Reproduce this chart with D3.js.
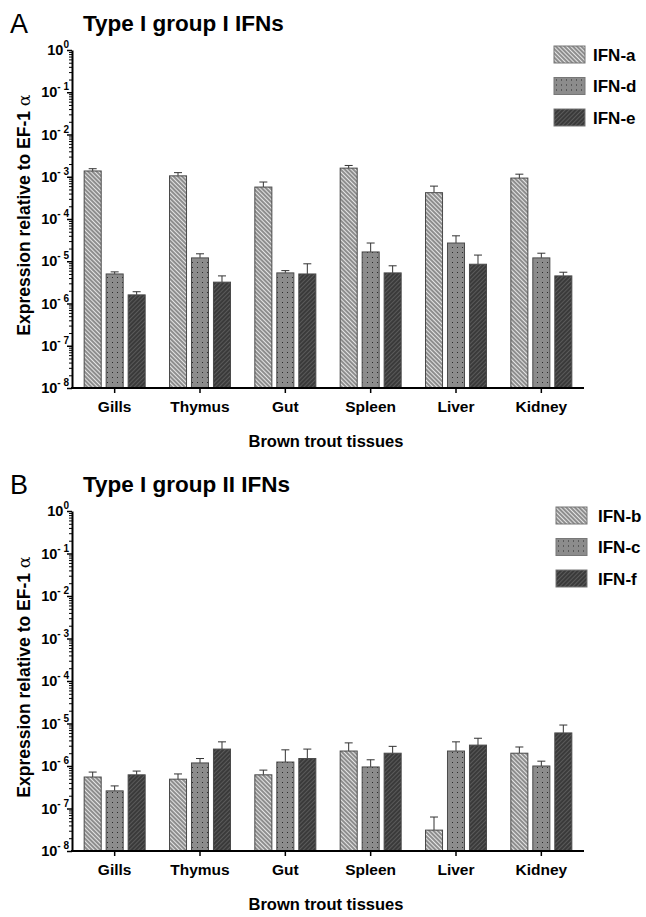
<!DOCTYPE html>
<html>
<head>
<meta charset="utf-8">
<script src="https://cdn.jsdelivr.net/npm/d3@7"></script>
<style>
  body { margin: 0; background: white; }
  svg { font-family: "Liberation Sans", Arial, sans-serif; }
</style>
</head>
<body>
<svg width="646" height="917"></svg>
<script>
// data
const tissues = ["Gills", "Thymus", "Gut", "Spleen", "Liver", "Kidney"];

const seriesA = ["IFN-a", "IFN-d", "IFN-e"];
const meanA = [
  [1.37e-3, 1.05e-3, 5.7e-4, 1.6e-3, 4.2e-4, 9.3e-4],
  [5.0e-6, 1.2e-5, 5.3e-6, 1.66e-5, 2.7e-5, 1.2e-5],
  [1.6e-6, 3.2e-6, 5.0e-6, 5.3e-6, 8.5e-6, 4.5e-6]
];
const errA = [
  [1.55e-3, 1.25e-3, 7.5e-4, 1.85e-3, 6.0e-4, 1.15e-3],
  [5.6e-6, 1.5e-5, 6.0e-6, 2.7e-5, 4.0e-5, 1.55e-5],
  [1.9e-6, 4.5e-6, 8.7e-6, 7.8e-6, 1.4e-5, 5.5e-6]
];

const seriesB = ["IFN-b", "IFN-c", "IFN-f"];
const meanB = [
  [5.5e-7, 4.9e-7, 6.2e-7, 2.25e-6, 3.1e-8, 2.0e-6],
  [2.6e-7, 1.18e-6, 1.24e-6, 9.5e-7, 2.25e-6, 1.0e-6],
  [6.2e-7, 2.5e-6, 1.5e-6, 2.0e-6, 3.1e-6, 6.0e-6]
];
const errB = [
  [7.2e-7, 6.5e-7, 8.0e-7, 3.5e-6, 6.3e-8, 2.8e-6],
  [3.4e-7, 1.5e-6, 2.4e-6, 1.4e-6, 3.7e-6, 1.3e-6],
  [7.6e-7, 3.7e-6, 2.5e-6, 2.9e-6, 4.5e-6, 9.2e-6]
];

const decades = [0, -1, -2, -3, -4, -5, -6, -7, -8];

const svg = d3.select("svg");
const fills = ["url(#hatchBack)", "url(#dots)", "url(#hatchFwd)"];

// 패턴 정의
const defs = svg.append("defs");

const p1 = defs.append("pattern")
  .attr("id", "hatchBack").attr("patternUnits", "userSpaceOnUse")
  .attr("width", 3).attr("height", 3)
  .attr("patternTransform", "rotate(-45)");
p1.append("rect").attr("width", 3).attr("height", 3).attr("fill", "#e4e4e4");
p1.append("line").attr("x1", 1).attr("y1", 0).attr("x2", 1).attr("y2", 3)
  .attr("stroke", "#222").attr("stroke-width", 0.9);

const p2 = defs.append("pattern")
  .attr("id", "dots").attr("patternUnits", "userSpaceOnUse")
  .attr("width", 5).attr("height", 5);
p2.append("rect").attr("width", 5).attr("height", 5).attr("fill", "#8c8c8c");
p2.append("rect").attr("x", 2).attr("y", 2).attr("width", 1).attr("height", 1).attr("fill", "#2a2a2a");

const p3 = defs.append("pattern")
  .attr("id", "hatchFwd").attr("patternUnits", "userSpaceOnUse")
  .attr("width", 3).attr("height", 3)
  .attr("patternTransform", "rotate(45)");
p3.append("rect").attr("width", 3).attr("height", 3).attr("fill", "#5a5a5a");
p3.append("line").attr("x1", 1).attr("y1", 0).attr("x2", 1).attr("y2", 3)
  .attr("stroke", "#1a1a1a").attr("stroke-width", 1);

function drawPanel(opt) {
  const g = svg.append("g");
  const left = 72, right = 584;

  const y = d3.scaleLog().domain([1e-8, 1]).range([opt.bottom, opt.top]);
  const x = d3.scaleBand().domain(tissues).range([left, right]);
  const groupW = 62;
  const xs = d3.scaleBand().domain(opt.series).range([0, groupW]).paddingInner(0.18);

  // 막대
  opt.series.forEach((s, si) => {
    const bx = t => x(t) + (x.bandwidth() - groupW) / 2 + xs(s);
    // error bars
    g.selectAll(null).data(tissues).enter().append("line")
      .attr("x1", t => bx(t) + xs.bandwidth() / 2)
      .attr("x2", t => bx(t) + xs.bandwidth() / 2)
      .attr("y1", (t, i) => y(opt.mean[si][i]))
      .attr("y2", (t, i) => y(opt.err[si][i]))
      .attr("stroke", "#333").attr("stroke-width", 1);
    g.selectAll(null).data(tissues).enter().append("line")
      .attr("x1", t => bx(t) + xs.bandwidth() / 2 - 4)
      .attr("x2", t => bx(t) + xs.bandwidth() / 2 + 4)
      .attr("y1", (t, i) => y(opt.err[si][i]))
      .attr("y2", (t, i) => y(opt.err[si][i]))
      .attr("stroke", "#333").attr("stroke-width", 1);
    g.selectAll(null).data(tissues).enter().append("rect")
      .attr("x", t => bx(t) + 0.5)
      .attr("y", (t, i) => y(opt.mean[si][i]))
      .attr("width", xs.bandwidth() - 1)
      .attr("height", (t, i) => y(1e-8) - y(opt.mean[si][i]))
      .attr("fill", fills[si])
      .attr("stroke", "#4a4a4a").attr("stroke-width", 1);
  });

  // y 축: minor ticks
  const minor = [];
  decades.slice(0, -1).forEach(d => {
    for (let k = 2; k <= 9; k++) minor.push(k * Math.pow(10, d - 1));
  });
  g.append("g").attr("transform", `translate(${left},0)`)
    .call(d3.axisLeft(y).tickValues(minor).tickSize(3).tickFormat(""))
    .call(a => a.select(".domain").remove())
    .selectAll("line").attr("stroke-width", 1);
  const ya = g.append("g").attr("transform", `translate(${left},0)`)
    .call(d3.axisLeft(y).tickValues(decades.map(d => Math.pow(10, d))).tickSize(5).tickSizeOuter(0).tickFormat(""));
  ya.select(".domain").attr("stroke-width", 2);
  ya.selectAll("line").attr("stroke-width", 1.5);

  // 눈금 레이블 10^n
  const lab = g.selectAll(null).data(decades).enter().append("text")
    .attr("x", left - 3)
    .attr("y", d => y(Math.pow(10, d)) + 5)
    .attr("text-anchor", "end")
    .attr("font-weight", "bold")
    .attr("font-size", 14.5);
  lab.append("tspan").text("10");
  lab.append("tspan").attr("dy", -7).attr("font-size", 10)
    .text(d => d === 0 ? "0" : "- " + (-d));

  // x 축
  const xa = g.append("g").attr("transform", `translate(0,${opt.bottom})`)
    .call(d3.axisBottom(x).tickSize(5).tickSizeOuter(0));
  xa.select(".domain").attr("stroke-width", 2).attr("d", `M${left - 1},0H${right}`);
  xa.selectAll("line").attr("stroke-width", 1.5);
  xa.selectAll("text").attr("font-size", 15.5).attr("font-weight", "bold")
    .attr("font-family", "'Liberation Sans', Arial, sans-serif").attr("dy", "1.05em").attr("fill", "#000");

  // 축 제목
  g.append("text")
    .attr("x", 326).attr("y", opt.bottom + 59)
    .attr("text-anchor", "middle").attr("font-size", 16.5).attr("font-weight", "bold")
    .text("Brown trout tissues");

  const yt = g.append("text")
    .attr("transform", `translate(30,${(opt.top + opt.bottom) / 2 - 4}) rotate(-90)`)
    .attr("text-anchor", "middle").attr("font-size", 17.5).attr("font-weight", "bold");
  yt.append("tspan").text("Expression relative to EF-1 ");
  yt.append("tspan").attr("font-weight", "normal").attr("font-family", "'DejaVu Serif', serif").text("α");

  // 패널 레이블과 제목
  g.append("text").attr("x", 10).attr("y", opt.top - 17)
    .attr("font-size", 27).text(opt.letter);
  g.append("text").attr("x", 83).attr("y", opt.top - 19)
    .attr("font-size", 22.5).attr("font-weight", "bold").text(opt.title);

  // 범례
  const lg = g.selectAll(null).data(opt.series).enter().append("g")
    .attr("transform", (d, i) => `translate(${opt.legendX},${opt.legendY + i * 31.5})`);
  lg.append("rect").attr("width", 31).attr("height", 17)
    .attr("fill", (d, i) => fills[i]).attr("stroke", "#777").attr("stroke-width", 1);
  lg.append("text").attr("x", opt.legendX > 554 ? 42 : 39).attr("y", 14.5)
    .attr("font-size", 17).attr("font-weight", "bold").text(d => d);
}

drawPanel({
  letter: "A", title: "Type I group I IFNs",
  top: 50, bottom: 388,
  series: seriesA, mean: meanA, err: errA,
  legendX: 554, legendY: 46
});

drawPanel({
  letter: "B", title: "Type I group II IFNs",
  top: 511, bottom: 851,
  series: seriesB, mean: meanB, err: errB,
  legendX: 556, legendY: 507
});
</script>
</body>
</html>
